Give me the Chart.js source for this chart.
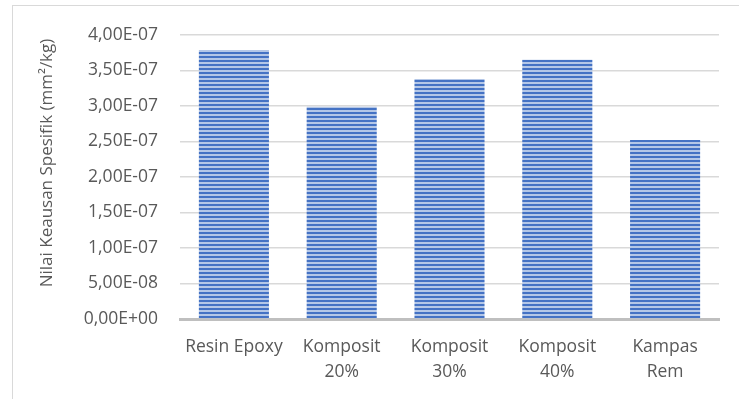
<!DOCTYPE html>
<html>
<head>
<meta charset="utf-8">
<script src="https://cdn.jsdelivr.net/npm/chart.js@4"></script>
<style>
    html, body { margin: 0; padding: 0; background: #fff; overflow: hidden; }
    .frame { position: absolute; left: 12px; top: 5px; width: 800px; height: 500px; border: 1.5px solid #d9d9d9; }
    .wrap { position: absolute; left: 0; top: 0; width: 739px; height: 399px; }
</style>
</head>
<body>
<div class="frame"></div>
<div class="wrap"><canvas id="myChart" width="739" height="399"></canvas></div>
<script>
const labels = [['Resin Epoxy'], ['Komposit', '20%'], ['Komposit', '30%'], ['Komposit', '40%'], ['Kampas', 'Rem']]
const keausan = [3.79e-7, 2.99e-7, 3.38e-7, 3.65e-7, 2.52e-7]
const yTitle = 'Nilai Keausan Spesifik (mm²/kg)'

// striped fill like the excel pattern
let makeStripes = () => {
    let c = document.createElement('canvas')
    c.width = 4
    c.height = 4
    let ctx = c.getContext('2d')
    ctx.fillStyle = '#b4c7e7'
    ctx.fillRect(0, 0, 4, 4)
    ctx.fillStyle = '#4472c4'
    ctx.fillRect(0, 0, 4, 2)
    return ctx.createPattern(c, 'repeat')
}

let fmtExp = v => {
    if (v == 0) return '0,00E+00'
    let e = Math.floor(Math.log10(Math.abs(v)) + 1e-9)
    let m = v / Math.pow(10, e)
    let sign = e < 0 ? '-' : '+'
    return m.toFixed(2).replace('.', ',') + 'E' + sign + String(Math.abs(e)).padStart(2, '0')
}

const font = 'Open Sans'

// axis title drawn by hand, excel centres it on the whole chart
const yTitlePlugin = {
    id: 'yTitle',
    afterDraw(chart) {
        let ctx = chart.ctx
        ctx.save()
        ctx.translate(47, 163)
        ctx.rotate(-Math.PI / 2)
        ctx.font = '17px "' + font + '"'
        ctx.fillStyle = '#595959'
        ctx.textAlign = 'center'
        ctx.textBaseline = 'middle'
        ctx.fillText(yTitle, 0, 0)
        ctx.restore()
    }
}

new Chart(document.getElementById('myChart'), {
    type: 'bar',
    data: {
        labels: labels,
        datasets: [{
            data: keausan,
            backgroundColor: makeStripes(),
            borderWidth: 0,
            categoryPercentage: 1,
            barPercentage: 0.65
        }]
    },
    options: {
        responsive: false,
        animation: false,
        layout: { padding: { left: 0, top: 35, right: 20, bottom: 0 } },
        plugins: { legend: { display: false }, tooltip: { enabled: false } },
        scales: {
            x: {
                grid: { display: false, drawTicks: false },
                border: { color: '#bfbfbf', width: 3 },
                ticks: { color: '#595959', font: { family: font, size: 17.5, lineHeight: 1.45 }, padding: 15, maxRotation: 0 },
                afterFit: s => { s.height = 80 }
            },
            y: {
                min: 0,
                max: 4e-7,
                grid: { color: '#d9d9d9', lineWidth: 1.5, drawTicks: false },
                border: { display: false },
                ticks: {
                    stepSize: 5e-8,
                    color: '#595959',
                    font: { family: font, size: 17.5 },
                    padding: 22,
                    callback: v => fmtExp(v)
                },
                afterFit: s => { s.width = 180 }
            }
        }
    },
    plugins: [yTitlePlugin]
})
</script>
</body>
</html>
